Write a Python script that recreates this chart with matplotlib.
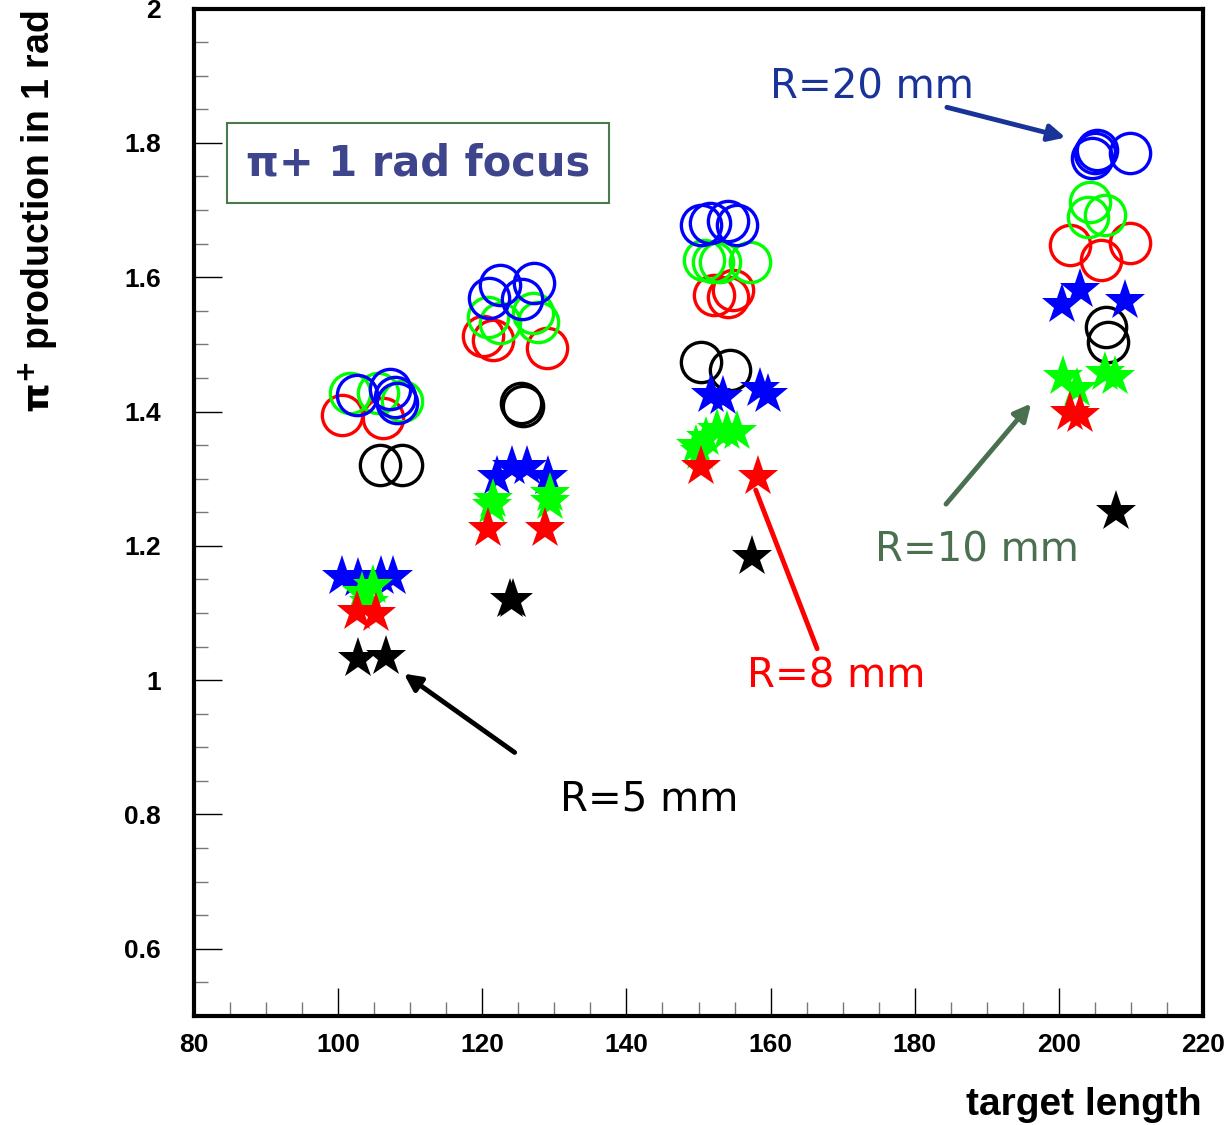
import numpy as np
import matplotlib
matplotlib.use("Agg")
import matplotlib.pyplot as plt
from matplotlib.ticker import MultipleLocator

# circles = one set of runs, stars = the other; colour = target radius
black_circ_x = [105.8, 108.8, 125.3, 125.6, 150.4, 154.4, 206.6, 206.8]
black_circ_y = [1.321, 1.321, 1.412, 1.408, 1.473, 1.462, 1.526, 1.504]
red_circ_x = [100.5, 106.2, 120.1, 121.5, 129.0, 152.1, 154.8, 154.1, 201.6, 205.9, 209.9]
red_circ_y = [1.395, 1.391, 1.512, 1.507, 1.495, 1.574, 1.581, 1.571, 1.648, 1.626, 1.651]
green_circ_x = [101.6, 105.5, 108.9, 120.8, 122.5, 127.0, 127.7, 150.7, 153.0, 157.1, 152.0, 204.3, 204.0, 206.4]
green_circ_y = [1.428, 1.428, 1.415, 1.541, 1.532, 1.547, 1.534, 1.626, 1.622, 1.622, 1.623, 1.712, 1.690, 1.693]
blue_circ_x = [102.6, 107.2, 107.9, 108.1, 120.9, 122.5, 127.2, 125.5, 150.4, 151.6, 154.1, 155.3, 205.0, 204.6, 205.3, 209.9]
blue_circ_y = [1.425, 1.433, 1.421, 1.413, 1.569, 1.589, 1.592, 1.567, 1.678, 1.681, 1.683, 1.678, 1.785, 1.778, 1.790, 1.785]

black_star_x = [102.8, 106.7, 123.8, 124.3, 157.4, 208.0]
black_star_y = [1.031, 1.034, 1.120, 1.120, 1.184, 1.251]
red_star_x = [102.6, 105.3, 120.8, 128.7, 150.4, 158.3, 201.6, 203.0]
red_star_y = [1.101, 1.098, 1.225, 1.225, 1.317, 1.303, 1.398, 1.395]
green_star_x = [103.3, 104.3, 104.8, 121.5, 121.3, 129.4, 129.4, 149.7, 150.2, 151.1, 152.5, 153.9, 155.3, 200.6, 202.5, 206.4, 207.8]
green_star_y = [1.130, 1.115, 1.140, 1.269, 1.259, 1.277, 1.266, 1.348, 1.339, 1.361, 1.373, 1.370, 1.370, 1.452, 1.433, 1.458, 1.452]
blue_star_x = [100.5, 102.8, 106.0, 107.6, 122.0, 124.1, 126.2, 129.1, 151.8, 153.4, 158.5, 159.6, 200.4, 203.0, 209.2]
blue_star_y = [1.153, 1.150, 1.153, 1.153, 1.303, 1.317, 1.318, 1.303, 1.425, 1.421, 1.433, 1.425, 1.559, 1.581, 1.564]

plt.rcParams['font.family'] = ['Liberation Sans', 'DejaVu Sans']

fig = plt.figure(figsize=(12.29, 11.25), dpi=100)
ax = fig.add_axes([0.1579, 0.0969, 0.8209, 0.8955])

ms_c = 29
ms_s = 31
ax.plot(black_circ_x, black_circ_y, 'o', ms=ms_c, mfc='none', mec='black', mew=2.4)
ax.plot(red_circ_x, red_circ_y, 'o', ms=ms_c, mfc='none', mec='red', mew=2.4)
ax.plot(green_circ_x, green_circ_y, 'o', ms=ms_c, mfc='none', mec='#00ff00', mew=2.4)
ax.plot(blue_circ_x, blue_circ_y, 'o', ms=ms_c, mfc='none', mec='blue', mew=2.4)

ax.plot(black_star_x, black_star_y, '*', ms=ms_s, color='black', mew=0)
ax.plot(blue_star_x, blue_star_y, '*', ms=ms_s, color='blue', mew=0)
ax.plot(green_star_x, green_star_y, '*', ms=ms_s, color='#00ff00', mew=0)
ax.plot(red_star_x, red_star_y, '*', ms=ms_s, color='red', mew=0)

ax.set_xlim(80, 220)
ax.set_ylim(0.5, 2.0)
ax.xaxis.set_major_locator(MultipleLocator(20))
ax.xaxis.set_minor_locator(MultipleLocator(5))
ax.yaxis.set_major_locator(MultipleLocator(0.2))
ax.yaxis.set_minor_locator(MultipleLocator(0.05))
ax.set_yticks([0.6, 0.8, 1.0, 1.2, 1.4, 1.6, 1.8, 2.0])
ax.set_yticklabels(['0.6', '0.8', '1', '1.2', '1.4', '1.6', '1.8', '2'])
ax.tick_params(which='major', direction='in', length=20, width=1, labelsize=19)
ax.tick_params(which='minor', direction='in', length=10, width=1, color='#777777')
ax.tick_params(axis='y', pad=24)
ax.tick_params(axis='x', pad=12)
for lab in ax.get_xticklabels() + ax.get_yticklabels():
    lab.set_fontweight('bold')
for sp in ax.spines.values():
    sp.set_linewidth(3)

fig.text(0.031, 0.991, r'$\mathbf{\pi^{+}}$ production in 1 rad', rotation=90, ha='center', va='top',
         fontsize=27, fontweight='bold')
fig.text(0.978, 0.002, 'target length', ha='right', va='bottom', fontsize=28, fontweight='bold')

# title box
ax.text(111.1, 1.770, 'π+ 1 rad focus', ha='center', va='center', fontsize=30,
        fontweight='bold', color='#3f458c', family=['DejaVu Sans'],
        bbox=dict(boxstyle='square,pad=0.45', fc='white', ec='#4a7a50', lw=1.5))

# annotations
ax.annotate('', xy=(201.3, 1.807), xytext=(184.1, 1.854),
            arrowprops=dict(arrowstyle='-|>', color='#1a3399', lw=3.5, mutation_scale=25))
ax.text(159.9, 1.883, 'R=20 mm', ha='left', va='center', fontsize=29, color='#1a3399',
        family=['DejaVu Sans'])

ax.annotate('', xy=(196.4, 1.415), xytext=(184.1, 1.259),
            arrowprops=dict(arrowstyle='-|>', color='#4a7050', lw=3.5, mutation_scale=25))
ax.text(174.5, 1.193, 'R=10 mm', ha='left', va='center', fontsize=29, color='#4a7050',
        family=['DejaVu Sans'])

ax.annotate('', xy=(157.8, 1.287), xytext=(166.6, 1.043),
            arrowprops=dict(arrowstyle='-', color='red', lw=3.5))
ax.text(156.7, 1.006, 'R=8 mm', ha='left', va='center', fontsize=29, color='red',
        family=['DejaVu Sans'])

ax.annotate('', xy=(108.8, 1.012), xytext=(124.8, 0.890),
            arrowprops=dict(arrowstyle='-|>', color='black', lw=3.5, mutation_scale=25))
ax.text(130.8, 0.823, 'R=5 mm', ha='left', va='center', fontsize=29, color='black',
        family=['DejaVu Sans'])

fig.savefig('out.png', dpi=100)
